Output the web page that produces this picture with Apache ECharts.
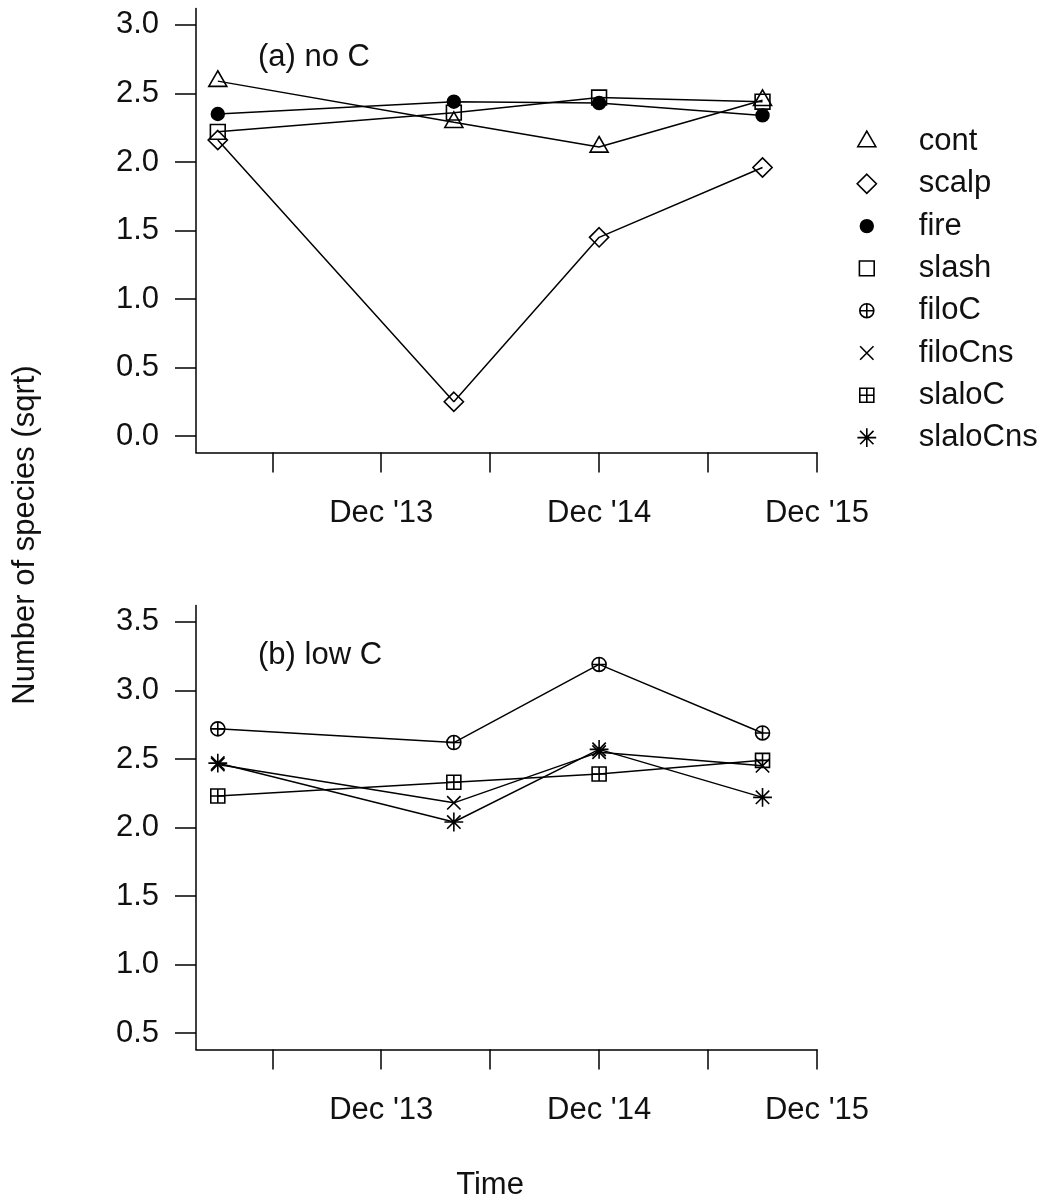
<!DOCTYPE html>
<html>
<head>
<meta charset="utf-8">
<script src="https://cdn.jsdelivr.net/npm/echarts@6/dist/echarts.min.js"></script>
<style>
html,body{margin:0;padding:0;background:#fff;}
#chart{width:1041px;height:1202px;}
</style>
</head>
<body>
<div id="chart"></div>
<script>
// ---- data ----
const months = [3, 16, 24, 33];            // months after Dec 2012
const xTickValues = [6, 12, 18, 24, 30, 36];
const xLabelValues = [12, 24, 36];
const xLabelTexts = ["Dec '13", "Dec '14", "Dec '15"];
const yTicksA = [0, 0.5, 1, 1.5, 2, 2.5, 3];
const yTicksB = [0.5, 1, 1.5, 2, 2.5, 3, 3.5];

const namesA = ['cont', 'scalp', 'fire', 'slash'];
const namesB = ['filoC', 'filoCns', 'slaloC', 'slaloCns'];

const cont     = [2.59, 2.29, 2.11, 2.45];
const scalp    = [2.16, 0.25, 1.45, 1.96];
const fire     = [2.35, 2.44, 2.43, 2.34];
const slash    = [2.22, 2.36, 2.47, 2.44];
const filoC    = [2.72, 2.62, 3.19, 2.69];
const filoCns  = [2.46, 2.18, 2.55, 2.45];
const slaloC   = [2.23, 2.33, 2.39, 2.49];
const slaloCns = [2.47, 2.04, 2.57, 2.22];

// ---- symbols (24x24 frame, invisible corner moves keep relative sizes) ----
const F = 'M0,0M24,24';
const sym = {
  cont: 'path://' + F + 'M12,1.6L21,17.2L3,17.2Z',
  scalp: 'path://' + F + 'M12,2.4L21.6,12L12,21.6L2.4,12Z',
  fire: 'path://' + F + 'M5.6,12A6.4,6.4,0,1,1,18.4,12A6.4,6.4,0,1,1,5.6,12Z',
  slash: 'path://' + F + 'M4.6,4.6L19.4,4.6L19.4,19.4L4.6,19.4Z',
  filoC: 'path://' + F + 'M5,12A7,7,0,1,1,19,12A7,7,0,1,1,5,12ZM12,5L12,19M5,12L19,12',
  filoCns: 'path://' + F + 'M5.3,5.3L18.7,18.7M18.7,5.3L5.3,18.7',
  slaloC: 'path://' + F + 'M5,5L19,5L19,19L5,19ZM12,5L12,19M5,12L19,12',
  slaloCns: 'path://' + F + 'M5.3,5.3L18.7,18.7M18.7,5.3L5.3,18.7M12,2.6L12,21.4M2.6,12L21.4,12'
};
const fills = {fire: '#000'};

const FONT = '"Liberation Sans", Arial, sans-serif';
const FS = 31;
const TXT = '#111';

function xAxisOpt(gridIndex) {
  return {
    type: 'value', gridIndex: gridIndex, min: 1.8, max: 36,
    axisLine: {show: true, onZero: false, lineStyle: {color: '#000', width: 1.5}},
    axisTick: {show: true, length: 20, inside: false, customValues: xTickValues,
               lineStyle: {color: '#000', width: 1.5}},
    axisLabel: {show: true, customValues: xLabelValues, margin: 45,
                fontSize: FS, fontFamily: FONT, color: TXT,
                formatter: function (v) { const i = xLabelValues.indexOf(v); return i >= 0 ? xLabelTexts[i] : ''; }},
    splitLine: {show: false}
  };
}
function yAxisOpt(gridIndex, mn, mx, ticks) {
  return {
    type: 'value', gridIndex: gridIndex, min: mn, max: mx,
    axisLine: {show: true, onZero: false, lineStyle: {color: '#000', width: 1.5}},
    axisTick: {show: true, length: 21, inside: false, customValues: ticks,
               lineStyle: {color: '#000', width: 1.5}},
    axisLabel: {show: true, customValues: ticks, margin: 37,
                fontSize: FS, fontFamily: FONT, color: TXT,
                formatter: function (v) { return v.toFixed(1); }},
    splitLine: {show: false}
  };
}
function makeSeries(name, vals, idx) {
  return {
    name: name, type: 'line', xAxisIndex: idx, yAxisIndex: idx,
    data: months.map(function (m, i) { return [m, vals[i]]; }),
    symbol: sym[name], symbolSize: 24, symbolKeepAspect: true,
    showAllSymbol: true,
    lineStyle: {color: '#000', width: 1.5},
    itemStyle: {color: fills[name] || 'rgba(0,0,0,0)', borderColor: '#000', borderWidth: 1.6},
    emphasis: {disabled: true},
    animation: false
  };
}

const seriesVals = {cont, scalp, fire, slash, filoC, filoCns, slaloC, slaloCns};
const series = namesA.map(n => makeSeries(n, seriesVals[n], 0))
  .concat(namesB.map(n => makeSeries(n, seriesVals[n], 1)));

const allNames = namesA.concat(namesB);

const chart = echarts.init(document.getElementById('chart'), null, {renderer: 'canvas'});
chart.setOption({
  backgroundColor: '#fff',
  animation: false,
  grid: [
    {left: 196, top: 8.5, width: 621, height: 444},
    {left: 196, top: 605.5, width: 621, height: 444}
  ],
  xAxis: [xAxisOpt(0), xAxisOpt(1)],
  yAxis: [yAxisOpt(0, -0.12, 3.12, yTicksA), yAxisOpt(1, 0.38, 3.62, yTicksB)],
  legend: {
    orient: 'vertical', left: 854, top: 126, padding: 0,
    itemWidth: 94, itemHeight: 24, itemGap: 11.3, symbolKeepAspect: true,
    selectedMode: false,
    textStyle: {fontSize: FS, fontFamily: FONT, color: TXT, width: 90, overflow: 'none'},
    data: allNames.map(n => ({
      name: n, icon: sym[n],
      itemStyle: {color: fills[n] || 'rgba(0,0,0,0)', borderColor: '#000', borderWidth: 1.6}
    }))
  },
  graphic: [
    {type: 'text', x: 258, y: 57, silent: true,
     style: {text: '(a) no C', fontSize: FS, fontFamily: FONT, fill: TXT, textAlign: 'left', textVerticalAlign: 'middle'}},
    {type: 'text', x: 258, y: 655, silent: true,
     style: {text: '(b) low C', fontSize: FS, fontFamily: FONT, fill: TXT, textAlign: 'left', textVerticalAlign: 'middle'}},
    {type: 'text', x: 25, y: 535, rotation: Math.PI / 2, silent: true,
     style: {text: 'Number of species (sqrt)', fontSize: FS, fontFamily: FONT, fill: TXT, textAlign: 'center', textVerticalAlign: 'middle'}},
    {type: 'text', x: 490, y: 1185, silent: true,
     style: {text: 'Time', fontSize: FS, fontFamily: FONT, fill: TXT, textAlign: 'center', textVerticalAlign: 'middle'}}
  ],
  series: series
});
</script>
</body>
</html>
